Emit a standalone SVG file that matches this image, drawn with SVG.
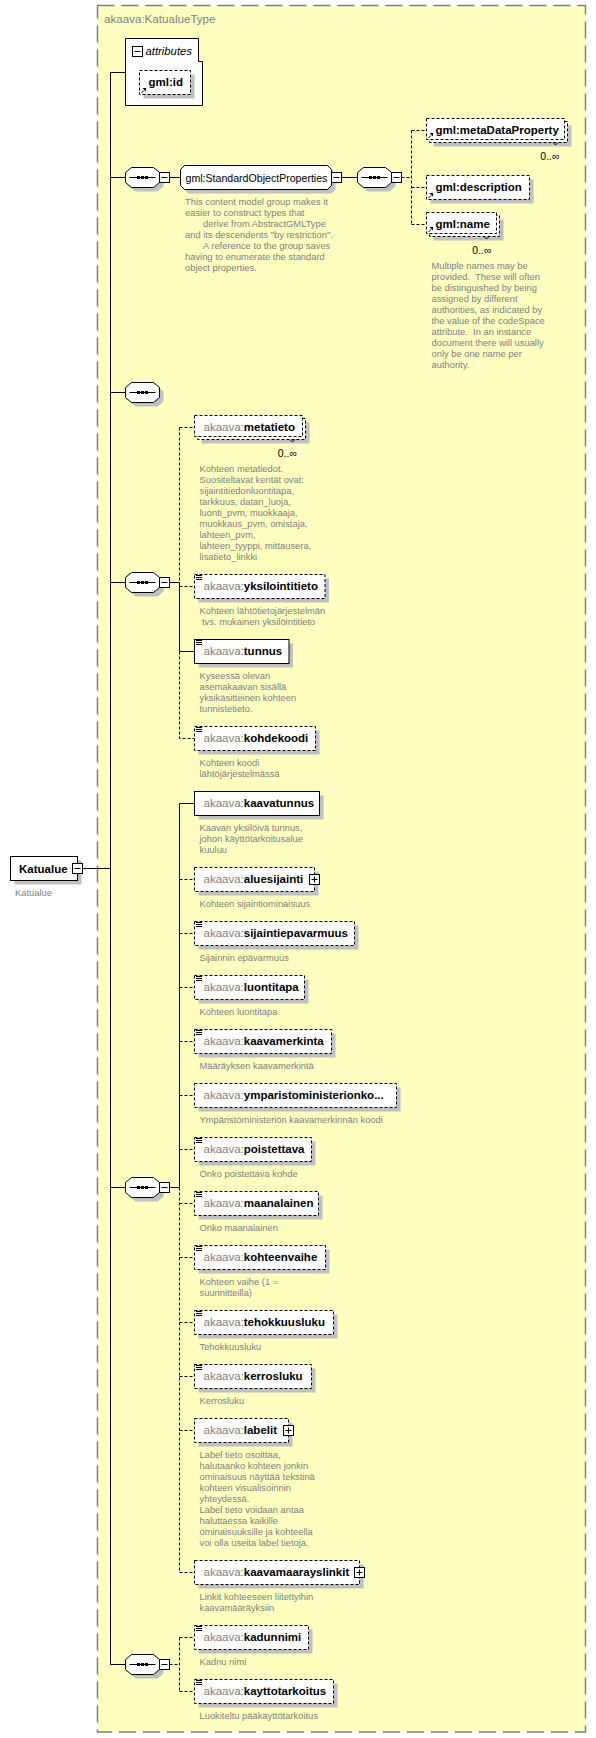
<svg xmlns="http://www.w3.org/2000/svg" xmlns:xlink="http://www.w3.org/1999/xlink" width="596" height="1738" viewBox="0 0 596 1738">
<style>
.frame{fill:#ffffc0;stroke:#808080;stroke-width:1.5;stroke-dasharray:17 7}
.box{fill:#fff;stroke:#000;stroke-width:1}
.opt{stroke-dasharray:3 2}
.sh{fill:#c0c0c0}
.ln{stroke:#000;stroke-width:1;fill:none}
.dash{stroke-dasharray:3 2}
text{font-family:"Liberation Sans",Arial,sans-serif}
.title{font-size:11.6px;fill:#808080}
.nm{font-size:11.5px;font-weight:bold;fill:#000}
.pf{font-weight:normal;fill:#808080}
.grp{font-size:10.6px;fill:#000}
.d{font-size:9.35px;fill:#808080}
.m{font-size:10.5px;fill:#000}
.it{font-size:11.3px;font-style:italic;fill:#000}
</style>
<defs>
<g id="seq">
<path d="M10,-6H32L38,-1V9L32,14H10L4,9V-1Z" class="sh"/>
<path d="M6,-10H28L34,-5V5L28,10H6L0,5V-5Z" class="box"/>
<path d="M4,0H30" class="ln"/>
<rect x="11.5" y="-1.5" width="3" height="3"/>
<rect x="15.5" y="-1.5" width="3" height="3"/>
<rect x="19.5" y="-1.5" width="3" height="3"/>
</g>
<g id="minus"><rect x="0" y="-5" width="10" height="10" class="box"/><path d="M2,0H8" class="ln"/></g>
<g id="plus"><rect x="0" y="-5" width="10" height="10" class="box"/><path d="M2,0H8M5,-3V3" class="ln"/></g>
<g id="doc"><path d="M1.5,1H7.5M1.5,3H7.5M1.5,5H7.5" class="ln"/></g>
<g id="ref"><path d="M2,-1.5L4.5,-4" class="ln"/><path d="M3,-6.5H6.5V-3Z" fill="#000"/></g>
<g id="notch"><path d="M-2.5,0L0,2.5L2.5,0" class="ln"/></g>
</defs>

<rect id="typeframe" x="97.5" y="5.5" width="488" height="1726.5" class="frame"/>
<text x="104" y="23" class="title">akaava:KatualueType</text>

<g id="connectors">
<path class="ln" d="M82.5,868.5H110.5M110.5,72.5V1664.5M110.5,72.5H125.5M110.5,177.5H125.5M169.5,177.5H180.5M341.5,177.5H357.5M110.5,392.5H125.5M110.5,582.5H125.5M169.5,582.5H179.5M179.5,582.5V651.5H194.5M110.5,1187.5H125.5M169.5,1187.5H179.5M179.5,803.5V1187.5M179.5,803.5H194.5M110.5,1664.5H125.5"/>
<path class="ln dash" d="M401.5,177.5H411.5M411.5,130.5V224.5M411.5,130.5H426.5M411.5,187.5H426.5M411.5,224.5H426.5M179.5,427.5V582.5M179.5,427.5H194.5M179.5,586.5H194.5M179.5,651.5V738.5H194.5M179.5,1187.5V1572.5M179.5,879.5H194.5M179.5,933.5H194.5M179.5,987.5H194.5M179.5,1041.5H194.5M179.5,1095.5H194.5M179.5,1149.5H194.5M179.5,1203.5H194.5M179.5,1257.5H194.5M179.5,1322.5H194.5M179.5,1376.5H194.5M179.5,1430.5H194.5M179.5,1572.5H194.5M169.5,1664.5H179.5M179.5,1637.5V1691.5M179.5,1637.5H194.5M179.5,1691.5H194.5"/>
</g>

<g id="n-katualue">
<rect x="14.5" y="860.5" width="67" height="24" class="sh"/>
<rect x="10.5" y="856.5" width="67" height="24" class="box"/>
<text x="19" y="872.5" class="nm">Katualue</text>
<use href="#minus" x="72.5" y="868.5"/>
<text x="15" y="895.5" class="d">Katualue</text>
</g>

<g id="n-attributes">
<path d="M125.5,38.5H198.5V61.5H202.5V105.5H125.5Z" class="box"/>
<use href="#minus" x="132.5" y="51.5"/>
<text x="145.5" y="55" class="it">attributes</text>
</g>

<g id="n-gmlid">
<rect x="143.5" y="74.5" width="51" height="24" class="sh"/>
<rect x="139.5" y="70.5" width="51" height="24" class="box opt"/>
<text x="148.5" y="86" class="nm">gml:id</text>
<use href="#ref" x="139.5" y="94.5"/>
</g>

<g id="n-seq1"><use href="#seq" x="125.5" y="177.5"/><use href="#minus" x="159.5" y="177.5"/></g>

<g id="n-sop">
<path d="M188.5,169.5H331.5L335.5,173.5V189.5L331.5,193.5H188.5L184.5,189.5V173.5Z" class="sh"/>
<path d="M184.5,165.5H327.5L331.5,169.5V185.5L327.5,189.5H184.5L180.5,185.5V169.5Z" class="box"/>
<text x="185.5" y="181.5" class="grp">gml:StandardObjectProperties</text>
<use href="#minus" x="331.5" y="177.5"/>
<text class="d"><tspan x="185" y="205">This content model group makes it</tspan><tspan x="185" y="216">easier to construct types that</tspan><tspan x="203" y="227">derive from AbstractGMLType</tspan><tspan x="185" y="238">and its descendents "by restriction".</tspan><tspan x="203" y="249">A reference to the group saves</tspan><tspan x="185" y="260">having to enumerate the standard</tspan><tspan x="185" y="271">object properties.</tspan></text>
</g>

<g id="n-seq-sop"><use href="#seq" x="357.5" y="177.5"/><use href="#minus" x="391.5" y="177.5"/></g>

<g id="n-metadataproperty">
<rect x="433.5" y="125.5" width="138" height="21" class="sh"/>
<rect x="429.5" y="121.5" width="138" height="21" class="box opt"/>
<rect x="426.5" y="118.5" width="138" height="21" class="box opt"/>
<text x="435.5" y="134" class="nm">gml:metaDataProperty</text>
<use href="#ref" x="426.5" y="139.5"/>
<use href="#notch" x="555.5" y="142.5"/>
<text x="559.5" y="160" class="m" text-anchor="end">0..∞</text>
</g>

<g id="n-description">
<rect x="430.5" y="179.5" width="103" height="24" class="sh"/>
<rect x="426.5" y="175.5" width="103" height="24" class="box opt"/>
<text x="435.5" y="191" class="nm">gml:description</text>
<use href="#ref" x="426.5" y="199.5"/>
</g>

<g id="n-name">
<rect x="433.5" y="219.5" width="70" height="21" class="sh"/>
<rect x="429.5" y="215.5" width="70" height="21" class="box opt"/>
<rect x="426.5" y="212.5" width="70" height="21" class="box opt"/>
<text x="435.5" y="228" class="nm">gml:name</text>
<use href="#ref" x="426.5" y="233.5"/>
<use href="#notch" x="486.5" y="236.5"/>
<text x="491.5" y="254" class="m" text-anchor="end">0..∞</text>
<text class="d" xml:space="preserve"><tspan x="431.5" y="269">Multiple names may be</tspan><tspan x="431.5" y="280">provided.  These will often</tspan><tspan x="431.5" y="291">be distinguished by being</tspan><tspan x="431.5" y="302">assigned by different</tspan><tspan x="431.5" y="313">authorities, as indicated by</tspan><tspan x="431.5" y="324">the value of the codeSpace</tspan><tspan x="431.5" y="335">attribute.  In an instance</tspan><tspan x="431.5" y="346">document there will usually</tspan><tspan x="431.5" y="357">only be one name per</tspan><tspan x="431.5" y="368">authority.</tspan></text>
</g>

<g id="n-seq-empty"><use href="#seq" x="125.5" y="392.5"/></g>

<g id="n-metatieto">
<rect x="201.5" y="422.5" width="108" height="21" class="sh"/>
<rect x="197.5" y="418.5" width="108" height="21" class="box opt"/>
<rect x="194.5" y="415.5" width="108" height="21" class="box opt"/>
<text x="203.5" y="431" class="nm"><tspan class="pf">akaava:</tspan>metatieto</text>
<use href="#notch" x="292.5" y="439.5"/>
<text x="297" y="457" class="m" text-anchor="end">0..∞</text>
<text class="d"><tspan x="199.5" y="472">Kohteen metatiedot.</tspan><tspan x="199.5" y="483">Suositeltavat kentät ovat:</tspan><tspan x="199.5" y="494">sijaintitiedonluontitapa,</tspan><tspan x="199.5" y="505">tarkkuus, datan_luoja,</tspan><tspan x="199.5" y="516">luonti_pvm, muokkaaja,</tspan><tspan x="199.5" y="527">muokkaus_pvm, omistaja,</tspan><tspan x="199.5" y="538">lahteen_pvm,</tspan><tspan x="199.5" y="549">lahteen_tyyppi, mittausera,</tspan><tspan x="199.5" y="560">lisatieto_linkki</tspan></text>
</g>

<g id="n-seq2"><use href="#seq" x="125.5" y="582.5"/><use href="#minus" x="159.5" y="582.5"/></g>

<g id="n-yksilointitieto">
<rect x="198.5" y="578.5" width="130.5" height="24" class="sh"/>
<rect x="194.5" y="574.5" width="130.5" height="24" class="box opt"/>
<use href="#doc" x="194.5" y="574.5"/>
<text x="203.5" y="590" class="nm"><tspan class="pf">akaava:</tspan>yksilointitieto</text>
<text class="d"><tspan x="199.5" y="614">Kohteen lähtötietojärjestelmän</tspan><tspan x="202" y="625">tvs. mukainen yksilöintitieto</tspan></text>
</g>

<g id="n-tunnus">
<rect x="198.5" y="643.5" width="94.5" height="24" class="sh"/>
<rect x="194.5" y="639.5" width="94.5" height="24" class="box"/>
<use href="#doc" x="194.5" y="639.5"/>
<text x="203.5" y="655" class="nm"><tspan class="pf">akaava:</tspan>tunnus</text>
<text class="d"><tspan x="199.5" y="679">Kyseessä olevan</tspan><tspan x="199.5" y="690">asemakaavan sisällä</tspan><tspan x="199.5" y="701">yksikäsitteinen kohteen</tspan><tspan x="199.5" y="712">tunnistetieto.</tspan></text>
</g>

<g id="n-kohdekoodi">
<rect x="198.5" y="730.5" width="121" height="24" class="sh"/>
<rect x="194.5" y="726.5" width="121" height="24" class="box opt"/>
<use href="#doc" x="194.5" y="726.5"/>
<text x="203.5" y="742" class="nm"><tspan class="pf">akaava:</tspan>kohdekoodi</text>
<text class="d"><tspan x="199.5" y="766">Kohteen koodi</tspan><tspan x="199.5" y="777">lähtöjärjestelmässä</tspan></text>
</g>

<g id="n-seq3"><use href="#seq" x="125.5" y="1187.5"/><use href="#minus" x="159.5" y="1187.5"/></g>

<g id="n-kaavatunnus">
<rect x="198.5" y="795.5" width="125" height="24" class="sh"/>
<rect x="194.5" y="791.5" width="125" height="24" class="box"/>
<text x="203.5" y="807" class="nm"><tspan class="pf">akaava:</tspan>kaavatunnus</text>
<text class="d"><tspan x="199.5" y="831">Kaavan yksilöivä tunnus,</tspan><tspan x="199.5" y="842">johon käyttötarkoitusalue</tspan><tspan x="199.5" y="853">kuuluu</tspan></text>
</g>

<g id="n-aluesijainti">
<rect x="198.5" y="871.5" width="120" height="24" class="sh"/>
<rect x="194.5" y="867.5" width="120" height="24" class="box opt"/>
<text x="203.5" y="883" class="nm"><tspan class="pf">akaava:</tspan>aluesijainti</text>
<use href="#plus" x="309.5" y="879.5"/>
<text x="199.5" y="907" class="d">Kohteen sijaintiominaisuus</text>
</g>

<g id="n-sijaintiepavarmuus">
<rect x="198.5" y="925.5" width="160" height="24" class="sh"/>
<rect x="194.5" y="921.5" width="160" height="24" class="box opt"/>
<use href="#doc" x="194.5" y="921.5"/>
<text x="203.5" y="937" class="nm"><tspan class="pf">akaava:</tspan>sijaintiepavarmuus</text>
<text x="199.5" y="961" class="d">Sijainnin epävarmuus</text>
</g>

<g id="n-luontitapa">
<rect x="198.5" y="979.5" width="110" height="24" class="sh"/>
<rect x="194.5" y="975.5" width="110" height="24" class="box opt"/>
<use href="#doc" x="194.5" y="975.5"/>
<text x="203.5" y="991" class="nm"><tspan class="pf">akaava:</tspan>luontitapa</text>
<text x="199.5" y="1015" class="d">Kohteen luontitapa</text>
</g>

<g id="n-kaavamerkinta">
<rect x="198.5" y="1033.5" width="137" height="24" class="sh"/>
<rect x="194.5" y="1029.5" width="137" height="24" class="box opt"/>
<use href="#doc" x="194.5" y="1029.5"/>
<text x="203.5" y="1045" class="nm"><tspan class="pf">akaava:</tspan>kaavamerkinta</text>
<text x="199.5" y="1069" class="d">Määräyksen kaavamerkintä</text>
</g>

<g id="n-ymparistoministerionkoodi">
<rect x="198.5" y="1087.5" width="202" height="24" class="sh"/>
<rect x="194.5" y="1083.5" width="202" height="24" class="box opt"/>
<text x="203.5" y="1099" class="nm"><tspan class="pf">akaava:</tspan>ymparistoministerionko...</text>
<text x="199.5" y="1123" class="d">Ympäristöministeriön kaavamerkinnän koodi</text>
</g>

<g id="n-poistettava">
<rect x="198.5" y="1141.5" width="117" height="24" class="sh"/>
<rect x="194.5" y="1137.5" width="117" height="24" class="box opt"/>
<use href="#doc" x="194.5" y="1137.5"/>
<text x="203.5" y="1153" class="nm"><tspan class="pf">akaava:</tspan>poistettava</text>
<text x="199.5" y="1177" class="d">Onko poistettava kohde</text>
</g>

<g id="n-maanalainen">
<rect x="198.5" y="1195.5" width="124" height="24" class="sh"/>
<rect x="194.5" y="1191.5" width="124" height="24" class="box opt"/>
<use href="#doc" x="194.5" y="1191.5"/>
<text x="203.5" y="1207" class="nm"><tspan class="pf">akaava:</tspan>maanalainen</text>
<text x="199.5" y="1231" class="d">Onko maanalainen</text>
</g>

<g id="n-kohteenvaihe">
<rect x="198.5" y="1249.5" width="131" height="24" class="sh"/>
<rect x="194.5" y="1245.5" width="131" height="24" class="box opt"/>
<use href="#doc" x="194.5" y="1245.5"/>
<text x="203.5" y="1261" class="nm"><tspan class="pf">akaava:</tspan>kohteenvaihe</text>
<text class="d"><tspan x="199.5" y="1285">Kohteen vaihe (1 =</tspan><tspan x="199.5" y="1296">suunnitteilla)</tspan></text>
</g>

<g id="n-tehokkuusluku">
<rect x="198.5" y="1314.5" width="139" height="24" class="sh"/>
<rect x="194.5" y="1310.5" width="139" height="24" class="box opt"/>
<use href="#doc" x="194.5" y="1310.5"/>
<text x="203.5" y="1326" class="nm"><tspan class="pf">akaava:</tspan>tehokkuusluku</text>
<text x="199.5" y="1350" class="d">Tehokkuusluku</text>
</g>

<g id="n-kerrosluku">
<rect x="198.5" y="1368.5" width="117" height="24" class="sh"/>
<rect x="194.5" y="1364.5" width="117" height="24" class="box opt"/>
<use href="#doc" x="194.5" y="1364.5"/>
<text x="203.5" y="1380" class="nm"><tspan class="pf">akaava:</tspan>kerrosluku</text>
<text x="199.5" y="1404" class="d">Kerrosluku</text>
</g>

<g id="n-labelit">
<rect x="198.5" y="1422.5" width="94" height="24" class="sh"/>
<rect x="194.5" y="1418.5" width="94" height="24" class="box opt"/>
<text x="203.5" y="1434" class="nm"><tspan class="pf">akaava:</tspan>labelit</text>
<use href="#plus" x="283.5" y="1430.5"/>
<text class="d"><tspan x="199.5" y="1458">Label tieto osoittaa,</tspan><tspan x="199.5" y="1469">halutaanko kohteen jonkin</tspan><tspan x="199.5" y="1480">ominaisuus näyttää tekstinä</tspan><tspan x="199.5" y="1491">kohteen visualisoinnin</tspan><tspan x="199.5" y="1502">yhteydessä.</tspan><tspan x="199.5" y="1513">Label tieto voidaan antaa</tspan><tspan x="199.5" y="1524">haluttaessa kaikille</tspan><tspan x="199.5" y="1535">ominaisuuksille ja kohteella</tspan><tspan x="199.5" y="1546">voi olla useita label tietoja.</tspan></text>
</g>

<g id="n-kaavamaarayslinkit">
<rect x="198.5" y="1564.5" width="165" height="24" class="sh"/>
<rect x="194.5" y="1560.5" width="165" height="24" class="box opt"/>
<text x="203.5" y="1576" class="nm"><tspan class="pf">akaava:</tspan>kaavamaarayslinkit</text>
<use href="#plus" x="354.5" y="1572.5"/>
<text class="d"><tspan x="199.5" y="1600">Linkit kohteeseen liitettyihin</tspan><tspan x="199.5" y="1611">kaavamääräyksiin</tspan></text>
</g>

<g id="n-seq4"><use href="#seq" x="125.5" y="1664.5"/><use href="#minus" x="159.5" y="1664.5"/></g>

<g id="n-kadunnimi">
<rect x="198.5" y="1629.5" width="114" height="24" class="sh"/>
<rect x="194.5" y="1625.5" width="114" height="24" class="box opt"/>
<use href="#doc" x="194.5" y="1625.5"/>
<text x="203.5" y="1641" class="nm"><tspan class="pf">akaava:</tspan>kadunnimi</text>
<text x="199.5" y="1665" class="d">Kadnu nimi</text>
</g>

<g id="n-kayttotarkoitus">
<rect x="198.5" y="1683.5" width="139" height="24" class="sh"/>
<rect x="194.5" y="1679.5" width="139" height="24" class="box opt"/>
<use href="#doc" x="194.5" y="1679.5"/>
<text x="203.5" y="1695" class="nm"><tspan class="pf">akaava:</tspan>kayttotarkoitus</text>
<text x="199.5" y="1719" class="d">Luokiteltu pääkäyttötarkoitus</text>
</g>
</svg>
